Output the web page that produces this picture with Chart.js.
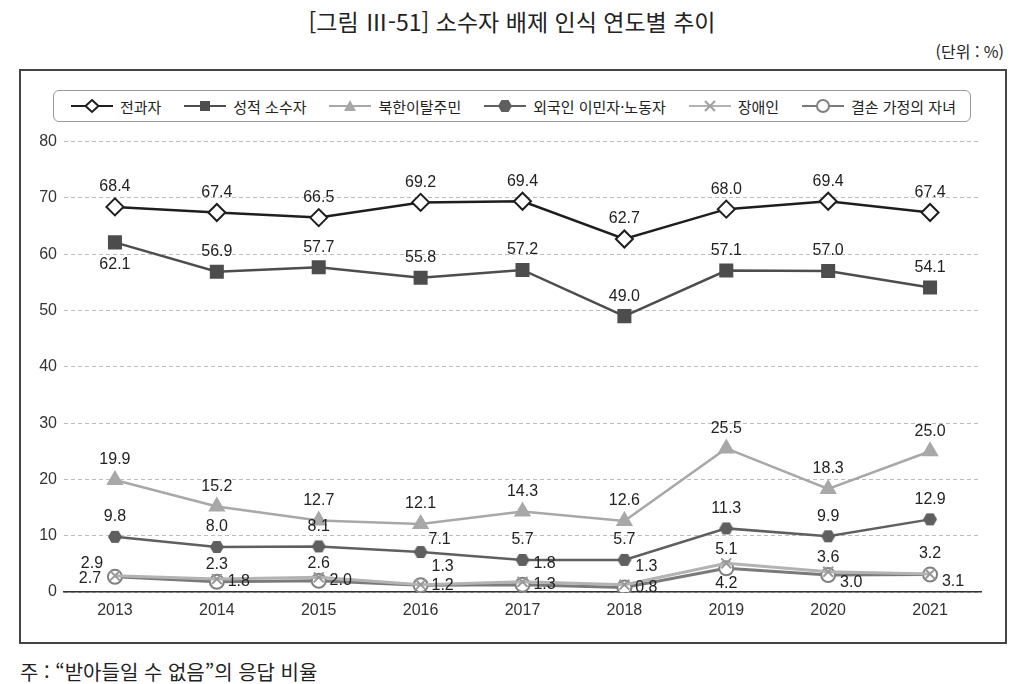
<!DOCTYPE html>
<html lang="ko">
<head>
<meta charset="utf-8">
<script src="https://cdn.jsdelivr.net/npm/chart.js@4.4.1/dist/chart.umd.min.js"></script>
<style>
  body { margin: 0; width: 1024px; height: 684px; background: #fff; position: relative; overflow: hidden;
         font-family: "Noto Sans CJK KR", sans-serif; color: #222; }
  #title { position: absolute; top: 4px; left: 0; width: 1024px; text-align: center; font-size: 23px; }
  #unit { position: absolute; top: 39px; right: 20px; font-size: 16px; }
  #box { position: absolute; left: 19px; top: 69px; width: 988px; height: 575px; border: 2px solid #444; box-sizing: border-box; }
  #legend { position: absolute; left: 53px; top: 90px; width: 918px; height: 32px; border: 1px solid #999; border-radius: 6px;
            box-sizing: border-box; display: flex; align-items: center; justify-content: space-between; padding: 0 14px 0 17px; font-size: 15px; }
  #legend span.item { display: flex; align-items: center; white-space: nowrap; }
  #legend svg { margin-right: 7px; }
  #chart { position: absolute; left: 20px; top: 125px; }
  #note { position: absolute; left: 20px; top: 657px; font-size: 20px; }
</style>
</head>
<body>
<div id="title">[그림 Ⅲ-51] 소수자 배제 인식 연도별 추이</div>
<div id="unit">(단위 : %)</div>
<div id="box"></div>
<div id="legend"></div>
<canvas id="chart" width="975" height="500"></canvas>
<div id="note">주 : “받아들일 수 없음”의 응답 비율</div>
<script>
const years = ['2013', '2014', '2015', '2016', '2017', '2018', '2019', '2020', '2021']
const seriesNames = ['전과자', '성적 소수자', '북한이탈주민', '외국인 이민자·노동자', '장애인', '결손 가정의 자녀']
const exOffenders = [68.4, 67.4, 66.5, 69.2, 69.4, 62.7, 68.0, 69.4, 67.4]
const sexualMinorities = [62.1, 56.9, 57.7, 55.8, 57.2, 49.0, 57.1, 57.0, 54.1]
const defectors = [19.9, 15.2, 12.7, 12.1, 14.3, 12.6, 25.5, 18.3, 25.0]
const migrants = [9.8, 8.0, 8.1, 7.1, 5.7, 5.7, 11.3, 9.9, 12.9]
const disabled = [2.9, 2.3, 2.6, 1.3, 1.8, 1.3, 5.1, 3.6, 3.2]
const brokenFamily = [2.7, 1.8, 2.0, 1.2, 1.3, 0.8, 4.2, 3.0, 3.1]
const yTicks = [0, 10, 20, 30, 40, 50, 60, 70, 80]

// where each value label sits relative to its point
const labelPlace = [
  ['t', 't', 't', 't', 't', 't', 't', 't', 't'],
  ['b', 't', 't', 't', 't', 't', 't', 't', 't'],
  ['t', 't', 't', 't', 't', 't', 't', 't', 't'],
  ['t', 't', 't', 'rt', 't', 't', 't', 't', 't'],
  ['tl', 'ts', 'ts', 'tr', 'tr', 'tr', 'ts', 'ts', 't'],
  ['l', 'r', 'r', 'r', 'r', 'r', 'bs', 'br', 'br']
]
const offsets = {
  t: [0, -20], ts: [0, -14], b: [0, 22], bs: [0, 15], l: [-25, 2], r: [22, 0],
  tr: [22, -18], rt: [19, -12], br: [23, 7], tl: [-23, -12]
}

const hexagon = (() => {
  const c = document.createElement('canvas')
  c.width = 16; c.height = 14
  const g = c.getContext('2d')
  g.fillStyle = '#5f5f5f'
  g.beginPath()
  g.moveTo(1, 7); g.lineTo(4.5, 1); g.lineTo(11.5, 1); g.lineTo(15, 7); g.lineTo(11.5, 13); g.lineTo(4.5, 13)
  g.closePath(); g.fill()
  return c
})()

const icons = [
  '<polygon points="21,2 27.5,8 21,14 14.5,8" fill="#fff" stroke="#1e1e1e" stroke-width="2"/>',
  '<rect x="16" y="3" width="10" height="10" fill="#4d4d4d"/>',
  '<polygon points="21,2 27,13 15,13" fill="#a8a8a8"/>',
  '<polygon points="14,8 17.5,2 24.5,2 28,8 24.5,14 17.5,14" fill="#5f5f5f"/>',
  '<path d="M16,3 L26,13 M26,3 L16,13" stroke="#a0a0a0" stroke-width="2"/>',
  '<circle cx="21" cy="8" r="6" fill="#fff" stroke="#808080" stroke-width="2"/>'
]
const lineColors = ['#1e1e1e', '#4d4d4d', '#a8a8a8', '#5f5f5f', '#b3b3b3', '#7a7a7a']

document.getElementById('legend').innerHTML = seriesNames.map((name, i) =>
  `<span class="item"><svg width="42" height="16"><line x1="0" y1="8" x2="42" y2="8" stroke="${lineColors[i]}" stroke-width="2"/>${icons[i]}</svg>${name}</span>`
).join('')

const makeSet = (i, data, extra) => Object.assign({
  label: seriesNames[i],
  data: data,
  borderColor: lineColors[i],
  borderWidth: 2.5,
  pointBorderColor: lineColors[i],
  pointBackgroundColor: lineColors[i],
  pointBorderWidth: 2,
  pointRadius: 8,
  tension: 0
}, extra)

const valueLabels = {
  id: 'valueLabels',
  afterDatasetsDraw(chart) {
    const ctx = chart.ctx
    ctx.save()
    ctx.font = '16px "Liberation Sans", Arial, sans-serif'
    ctx.fillStyle = '#222'
    ctx.textAlign = 'center'
    ctx.textBaseline = 'middle'
    chart.data.datasets.forEach((ds, i) => {
      chart.getDatasetMeta(i).data.forEach((pt, j) => {
        const [dx, dy] = offsets[labelPlace[i][j]]
        ctx.fillText(ds.data[j].toFixed(1), pt.x + dx, pt.y + dy)
      })
    })
    ctx.restore()
  }
}

new Chart(document.getElementById('chart'), {
  type: 'line',
  data: {
    labels: years,
    datasets: [
      makeSet(0, exOffenders, { pointStyle: 'rectRot', pointRadius: 8.5, pointBackgroundColor: '#fff' }),
      makeSet(1, sexualMinorities, { pointStyle: 'rect', pointRadius: 8.5 }),
      makeSet(2, defectors, { pointStyle: 'triangle', pointRadius: 8 }),
      makeSet(3, migrants, { pointStyle: hexagon }),
      makeSet(4, disabled, { pointStyle: 'crossRot', pointRadius: 7, pointBorderColor: '#999', borderWidth: 3 }),
      makeSet(5, brokenFamily, { pointStyle: 'circle', pointRadius: 7, pointBackgroundColor: '#fff', pointBorderColor: '#808080', borderWidth: 3 })
    ]
  },
  options: {
    responsive: false,
    animation: false,
    layout: { padding: { top: 16, right: 14, bottom: 0, left: 0 } },
    plugins: { legend: { display: false }, tooltip: { enabled: false } },
    scales: {
      x: {
        offset: true,
        grid: { display: false, drawTicks: false },
        border: { display: true, color: '#333', width: 1.5 },
        ticks: { padding: 9, color: '#333', font: { family: '"Liberation Sans", Arial, sans-serif', size: 16 } },
        afterFit: (s) => { s.height = 33 }
      },
      y: {
        min: 0,
        max: 80,
        afterBuildTicks: (s) => { s.ticks = yTicks.map(v => ({ value: v })) },
        grid: { color: '#bdbdbd', lineWidth: 1, drawTicks: false },
        border: { display: false, dash: [4, 3] },
        ticks: { padding: 7, color: '#333', font: { family: '"Liberation Sans", Arial, sans-serif', size: 16 } },
        afterFit: (s) => { s.width = 44 }
      }
    }
  },
  plugins: [valueLabels]
})
</script>
</body>
</html>
